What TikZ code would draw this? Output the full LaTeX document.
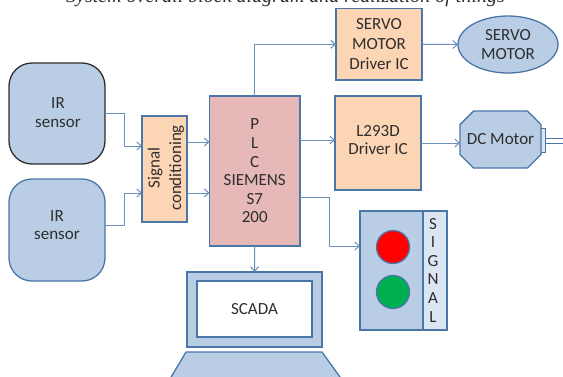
\documentclass[tikz,border=0pt]{standalone}
\usepackage{fontspec}
\setmainfont{Carlito}
\newfontfamily\capfont{Liberation Serif}
\usetikzlibrary{arrows.meta,shapes.geometric,shapes.misc}
\definecolor{edgeblue}{HTML}{4A76A8}
\definecolor{connblue}{HTML}{6A90BC}
\definecolor{fillblue}{HTML}{B9CDE5}
\definecolor{stripblue}{HTML}{DCE6F2}
\definecolor{fillorange}{HTML}{FCD5B5}
\definecolor{fillpink}{HTML}{E6B9B8}
\definecolor{inkdark}{HTML}{2E2E2E}
\definecolor{lampgreen}{RGB}{0,176,80}
\tikzset{
  x=1pt,y=-1pt,
  base/.style={draw=edgeblue,line width=1.3pt,inner sep=0pt,outer sep=0pt,text=inkdark,font=\fontsize{17}{18.6}\selectfont,align=center},
  sized/.style 2 args={minimum width=#1pt,minimum height=#2pt},
  orangebox/.style={base,rectangle,fill=fillorange},
  pinkbox/.style={base,rectangle,fill=fillpink},
  bluebox/.style={base,rectangle,fill=fillblue},
  sensorbox/.style={base,rectangle,rounded corners=23pt,fill=fillblue},
  lamp/.style={base,circle,minimum size=33pt},
  txt/.style={inner sep=0pt,text=inkdark,font=\fontsize{17}{18.6}\selectfont,align=center},
  conn/.style={draw=connblue,line width=1pt,-{Straight Barb[length=4.5pt,width=8pt]}},
}
\begin{document}
\begin{tikzpicture}
\useasboundingbox (0,0) rectangle (563,376);
\begin{scope}
\clip (0,0) rectangle (563,376);
\node[inner sep=0pt,anchor=base west,font=\capfont\itshape\fontsize{20}{21}\selectfont,text=inkdark] (caption) at (66,2) {System overall block diagram and realization of things};
% sensors
\node[sensorbox,sized={96}{101},draw=inkdark] (ir1) at (57,113.5) {};
\node[txt] (ir1t) at (58,112.5) {IR\\sensor};
\node[sensorbox,sized={96}{102}] (ir2) at (57,230) {};
\node[txt] (ir2t) at (57,225) {IR\\sensor};
% conditioning
\node[orangebox,sized={45}{106}] (cond) at (164.5,169) {};
\node[txt,rotate=90,font=\fontsize{17}{21.5}\selectfont] (condt) at (166,168) {Signal\\conditioning};
% PLC
\node[pinkbox,sized={90.5}{150}] (plc) at (254.75,171) {P\\L\\C\\SIEMENS\\S7\\200};
% drivers
\node[orangebox,sized={86}{71.5},font=\fontsize{17}{20}\selectfont] (servo) at (379,44.3) {SERVO\\MOTOR\\Driver IC};
\node[orangebox,sized={86}{94}] (l293) at (378,143) {};
\node[txt] (l293t) at (378,140) {L293D\\Driver IC};
% motors
\node[base,ellipse,fill=fillblue,minimum width=100pt,minimum height=57pt] (smotor) at (508,44.5) {SERVO\\MOTOR};
\node[base,rectangle,fill=stripblue,sized={5}{24},line width=1pt] (shaftcap) at (543,140) {};
\draw[edgeblue,line width=1pt] (shaftcap.east |- 0,138) coordinate (sa) -- (563,138) coordinate (sb);
\draw[edgeblue,line width=1pt] (shaftcap.east |- 0,143) coordinate (sc) -- (563,143) coordinate (sd);
\node[base,chamfered rectangle,chamfered rectangle xsep=8pt,chamfered rectangle ysep=8pt,fill=fillblue,sized={81}{57}] (dc) at (500.5,139.5) {DC Motor};
% signal panel
\node[bluebox,sized={63}{119}] (sig) at (391.5,270.5) {};
\node[base,rectangle,fill=stripblue,sized={24}{119}] (strip) at (435,270.5) {};
\node[txt] (stript) at (433,270) {S\\I\\G\\N\\A\\L};
\node[lamp,fill=red] (redlamp) at (393,247) {};
\node[lamp,fill=lampgreen] (greenlamp) at (393,292) {};
% SCADA
\node[bluebox,sized={135}{75}] (scada) at (254.5,309.5) {};
\node[base,rectangle,fill=white,sized={115}{56}] (screen) at (254.5,309) {SCADA};
\draw[edgeblue,line width=1.3pt,fill=fillblue] (186,352) coordinate (ka) -- (322,352) coordinate (kb) -- (345,384) coordinate (kc) -- (167,384) coordinate (kd) -- cycle;
% connectors
\draw[conn] (plc.north) |- (servo.west);
\draw[conn] (servo.east) -- (smotor.west);
\draw[conn] ([yshift=3pt]plc.east |- l293.west) -- ([yshift=3pt]l293.west);
\draw[conn] (l293.east) -- (l293.east -| dc.west);
\draw[conn] (plc.south) -- (scada.north);
\draw[conn] ([yshift=-26pt]plc.east) -- ++(29,0) |- ([yshift=24.5pt]sig.west);
\draw[conn] (ir1.east) -- ++(19,0) |- ([yshift=23pt]cond.west);
\draw[conn] ([yshift=5pt]ir2.east) -- ++(19,0) |- ([yshift=-24pt]cond.west);
\draw[conn] ([yshift=27pt]cond.east) -- ([yshift=27pt]cond.east -| plc.west);
\draw[conn] ([yshift=-24pt]cond.east) -- ([yshift=-24pt]cond.east -| plc.west);
\end{scope}
\end{tikzpicture}
\end{document}
